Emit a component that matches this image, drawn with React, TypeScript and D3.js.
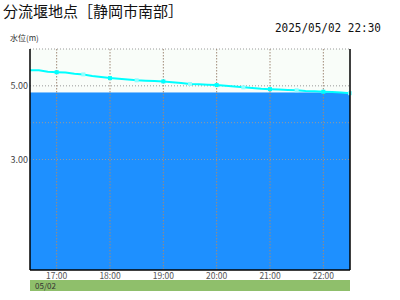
import React from "react";
import * as d3 from "d3";

const title = "分流堰地点［静岡市南部］";
const stamp = "2025/05/02 22:30";
const yLabel = "水位(m)";
const dateLabel = "05/02";
const startTime = "2025-05-02T16:30:00";
const endTime = "2025-05-02T22:30:00";
const hourTicks = ["17:00", "18:00", "19:00", "20:00", "21:00", "22:00"];
const yTickLabels = [3, 5];
const yGrid = [3, 4, 5, 6];
const baseLevel = 4.82;
const levels = [
  5.42, 5.42, 5.38, 5.37, 5.36, 5.33, 5.31, 5.27, 5.24, 5.21, 5.19, 5.17, 5.15,
  5.14, 5.13, 5.12, 5.1, 5.08, 5.05, 5.04, 5.03, 5.02, 5.0, 4.98, 4.96, 4.94,
  4.92, 4.91, 4.9, 4.89, 4.88, 4.86, 4.85, 4.84, 4.83, 4.82, 4.8,
];

export default function App() {
  const W = 400, H = 300;
  const L = 30, R = 350, T = 49, B = 270;
  const t0 = new Date(startTime), t1 = new Date(endTime);
  const x = d3.scaleTime().domain([t0, t1]).range([L, R]);
  const y = d3.scaleLinear().domain([0, 6]).range([B, T]);
  const pts = levels.map((v, i) => ({ t: new Date(t0.getTime() + i * 600000), v }));
  const line = d3.line<any>().x((d) => x(d.t)).y((d) => y(d.v));
  const tickDates = hourTicks.map((h) => new Date(`2025-05-02T${h}:00`));
  const font = "'Noto Sans CJK JP', sans-serif";
  return (
    <svg width={W} height={H} style={{ position: "absolute", left: 0, top: 0 }}>
      <rect x={0} y={0} width={W} height={H} fill="#fff" />
      <text x={3} y={17} fontSize={15} fontFamily={font} fill="#111">{title}</text>
      <text x={275} y={32} fontSize={12.5} fontFamily="'DejaVu Sans Mono', monospace" textLength={106} lengthAdjust="spacingAndGlyphs" fill="#111">{stamp}</text>
      <text x={10} y={41} fontSize={8} fontFamily={font} fill="#333">{yLabel}</text>
      <rect x={L} y={T} width={R - L} height={B - T} fill="#f9fdf9" />
      <rect x={L} y={y(baseLevel)} width={R - L} height={B - y(baseLevel)} fill="#1e90ff" />
      {yGrid.map((g) => (
        <line key={g} x1={L} x2={R} y1={y(g)} y2={y(g)} stroke="#999" strokeDasharray="1,2" />
      ))}
      {tickDates.map((d, i) => (
        <line key={i} x1={x(d)} x2={x(d)} y1={T} y2={B} stroke="#a08a78" strokeDasharray="1.5,1.5" />
      ))}
      <path d={line(pts) || ""} fill="none" stroke="#00ffff" strokeWidth={2} />
      {pts.map((p, i) =>
        i % 3 === 0 && i > 0 ? (
          <rect key={i} x={x(p.t) - 2} y={y(p.v) - 2} width={4} height={4}
            fill={i % 6 === 3 ? "#00ffff" : "#90ffff"} />
        ) : null
      )}
      <line x1={L} x2={L} y1={T} y2={B} stroke="#000" strokeWidth={1.5} />
      <line x1={R} x2={R} y1={T} y2={B} stroke="#000" strokeWidth={1.5} />
      <line x1={L} x2={R} y1={B} y2={B} stroke="#000" strokeWidth={1.5} />
      {yTickLabels.map((v) => (
        <text key={v} x={28} y={y(v) + 3} fontSize={9} fontFamily={font} textAnchor="end" fill="#444">{v.toFixed(2)}</text>
      ))}
      {tickDates.map((d, i) => (
        <text key={i} x={x(d)} y={279} fontSize={8.5} fontFamily={font} textAnchor="middle" fill="#555">{hourTicks[i]}</text>
      ))}
      <rect x={L} y={280} width={R - L} height={11} fill="#8fbf6b" />
      <text x={35} y={289} fontSize={8} fontFamily={font} fill="#333">{dateLabel}</text>
    </svg>
  );
}
